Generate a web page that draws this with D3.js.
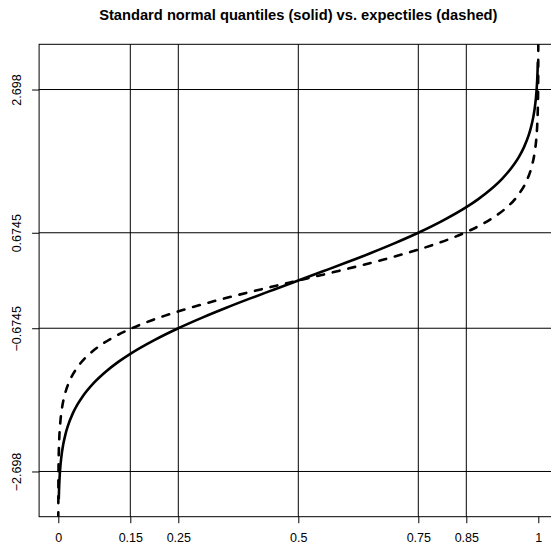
<!DOCTYPE html>
<html lang="en">
<head>
<meta charset="utf-8" />
<title>Quantiles vs expectiles</title>
<script src="https://d3js.org/d3.v7.min.js"></script>
<style>
  body { margin: 0; background: #fff; }
  text { font-family: "Liberation Sans", Arial, Helvetica, sans-serif; }
  .grid { stroke: #000; stroke-width: 1; }
  .quant { fill: none; stroke: #000; stroke-width: 2.6px; }
  .expec { fill: none; stroke: #000; stroke-width: 2.6px; stroke-dasharray: 7 9; stroke-linecap: round; }
</style>
</head>
<body>
<script>

// probability levels and the standard normal quantiles
var qProb = [0.001, 0.0015, 0.002, 0.003, 0.005, 0.0075, 0.01, 0.015, 0.02, 0.03, 0.04, 0.05,
  0.075, 0.1, 0.125, 0.15, 0.2, 0.25, 0.3, 0.35, 0.4, 0.45, 0.5,
  0.55, 0.6, 0.65, 0.7, 0.75, 0.8, 0.85, 0.875, 0.9, 0.925, 0.95, 0.96, 0.97, 0.98,
  0.985, 0.99, 0.9925, 0.995, 0.997, 0.998, 0.9985, 0.999];
var qValue = [-3.090, -2.968, -2.878, -2.748, -2.576, -2.432, -2.326, -2.170, -2.054, -1.881, -1.751, -1.645,
  -1.440, -1.282, -1.150, -1.036, -0.842, -0.674, -0.524, -0.385, -0.253, -0.126, 0,
  0.126, 0.253, 0.385, 0.524, 0.674, 0.842, 1.036, 1.150, 1.282, 1.440, 1.645, 1.751, 1.881, 2.054,
  2.170, 2.326, 2.432, 2.576, 2.748, 2.878, 2.968, 3.090];

// levels and expectiles along the dashed curve
var eProb = [0.0000109, 0.0000255, 0.0000579, 0.000127, 0.000272, 0.000562, 0.00113, 0.00221, 0.00421,
  0.00781, 0.0141, 0.0249, 0.0428, 0.0714, 0.0912, 0.1155, 0.1449, 0.1799, 0.2209, 0.2677, 0.3200,
  0.3771, 0.4376, 0.5, 0.5624, 0.6229, 0.6800, 0.7323, 0.7791, 0.8201, 0.8551, 0.8845, 0.9088,
  0.9286, 0.9572, 0.9751, 0.9859, 0.9922, 0.9958, 0.99779, 0.99887, 0.99944, 0.99973, 0.999873,
  0.999942, 0.9999745, 0.9999891];
var eValue = [-3.6, -3.4, -3.2, -3.0, -2.8, -2.6, -2.4, -2.2, -2.0,
  -1.8, -1.6, -1.4, -1.2, -1.0, -0.9, -0.8, -0.7, -0.6, -0.5, -0.4, -0.3,
  -0.2, -0.1, 0, 0.1, 0.2, 0.3, 0.4, 0.5, 0.6, 0.7, 0.8, 0.9,
  1.0, 1.2, 1.4, 1.6, 1.8, 2.0, 2.2, 2.4, 2.6, 2.8, 3.0,
  3.2, 3.4, 3.6];

var xTicks = [0, 0.15, 0.25, 0.5, 0.75, 0.85, 1];
var xTickLabels = ["0", "0.15", "0.25", "0.5", "0.75", "0.85", "1"];
var xGrid = [0.15, 0.25, 0.5, 0.75, 0.85];
var yTicks = [-2.698, -0.6745, 0.6745, 2.698];
var yTickLabels = ["\u22122.698", "\u22120.6745", "0.6745", "2.698"];

var W = 551, H = 545;
var box = {left: 39.1, right: 557.5, top: 44.3, bottom: 516.7};

var x = d3.scaleLinear().domain([-0.04, 1.04]).range([box.left, box.right]);
var y = d3.scaleLinear().domain([-3.337, 3.337]).range([box.bottom, box.top]);

var svg = d3.select("body").append("svg")
    .attr("width", W)
    .attr("height", H);

svg.append("defs").append("clipPath").attr("id", "plotclip")
  .append("rect")
    .attr("x", box.left).attr("y", box.top)
    .attr("width", box.right - box.left).attr("height", box.bottom - box.top);

// grid lines
svg.selectAll(".vgrid").data(xGrid).enter().append("line")
    .attr("class", "grid")
    .attr("x1", d => x(d)).attr("x2", d => x(d))
    .attr("y1", box.top).attr("y2", box.bottom);
svg.selectAll(".hgrid").data(yTicks).enter().append("line")
    .attr("class", "grid")
    .attr("x1", box.left).attr("x2", box.right)
    .attr("y1", d => y(d)).attr("y2", d => y(d));

// curves
var line = d3.line()
    .x(d => x(d[0]))
    .y(d => y(d[1]))
    .curve(d3.curveMonotoneX);

var g = svg.append("g").attr("clip-path", "url(#plotclip)");
g.append("path")
    .datum(qProb.map((p, i) => [p, qValue[i]]))
    .attr("class", "quant")
    .attr("d", line);
g.append("path")
    .datum(eProb.map((p, i) => [p, eValue[i]]))
    .attr("class", "expec")
    .attr("d", line);

// box
svg.append("rect")
    .attr("x", box.left).attr("y", box.top)
    .attr("width", box.right - box.left).attr("height", box.bottom - box.top)
    .attr("fill", "none").attr("stroke", "#000").attr("stroke-width", 1);

// x axis
var xAxis = d3.axisBottom(x)
    .tickValues(xTicks)
    .tickFormat((d, i) => xTickLabels[i])
    .tickSize(6.5)
    .tickPadding(10);
var gx = svg.append("g")
    .attr("transform", "translate(0," + box.bottom + ")")
    .call(xAxis);
gx.select(".domain").remove();
gx.selectAll("text").attr("font-size", "12.5px").attr("fill", "#000")
    .attr("font-family", "Liberation Sans, Arial, sans-serif");

// y axis, labels parallel to the axis
var yAxis = d3.axisLeft(y)
    .tickValues(yTicks)
    .tickFormat((d, i) => yTickLabels[i])
    .tickSize(7);
var gy = svg.append("g")
    .attr("transform", "translate(" + box.left + ",0)")
    .call(yAxis);
gy.select(".domain").remove();
gy.selectAll("text")
    .attr("x", null).attr("dy", null)
    .attr("transform", "translate(-18,0) rotate(-90)")
    .attr("text-anchor", "middle")
    .attr("font-size", "12.5px").attr("fill", "#000")
    .attr("font-family", "Liberation Sans, Arial, sans-serif");

// title
svg.append("text")
    .attr("x", x(0.5))
    .attr("y", 20)
    .attr("text-anchor", "middle")
    .attr("font-weight", "bold")
    .attr("font-size", "14.7px")
    .text("Standard normal quantiles (solid) vs. expectiles (dashed)");

</script>
</body>
</html>
